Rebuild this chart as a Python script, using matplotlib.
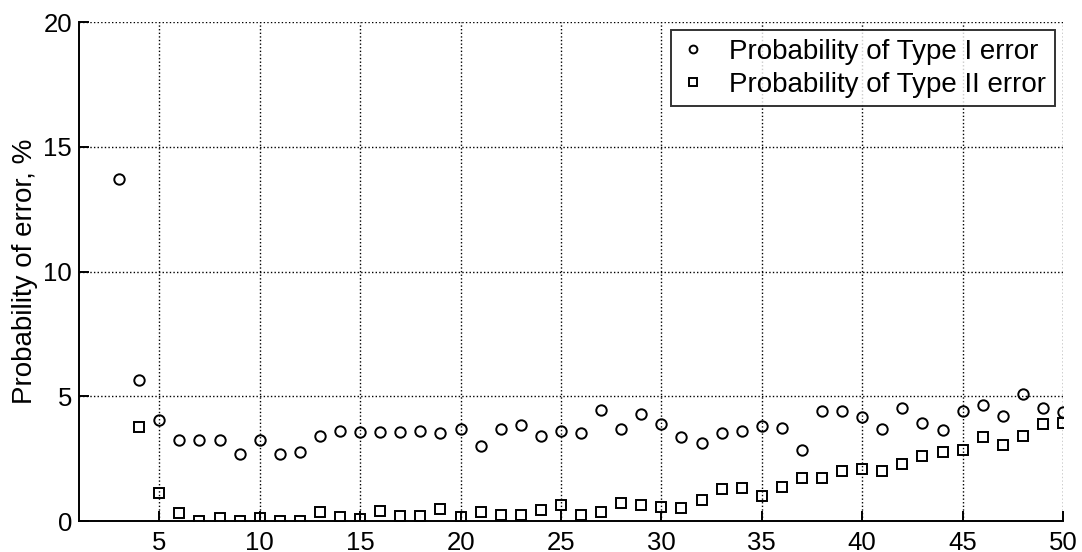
import numpy as np
import matplotlib.pyplot as plt

plt.rcParams['font.family'] = ['Liberation Sans', 'DejaVu Sans']

# number of samples on x, error probabilities in percent
n_type1 = list(range(3, 51))
p_type1 = [13.71, 5.65, 4.04, 3.25, 3.25, 3.25, 2.70, 3.26, 2.70, 2.75,
           3.42, 3.61, 3.57, 3.57, 3.58, 3.63, 3.55, 3.71, 3.01, 3.71,
           3.85, 3.42, 3.63, 3.53, 4.44, 3.69, 4.30, 3.89, 3.37, 3.11,
           3.53, 3.63, 3.83, 3.73, 2.86, 4.40, 4.40, 4.18, 3.69, 4.53,
           3.94, 3.67, 4.40, 4.65, 4.22, 5.08, 4.52, 4.38]

n_type2 = list(range(4, 51))
p_type2 = [3.77, 1.12, 0.33, 0.00, 0.11, 0.00, 0.11, 0.00, 0.00, 0.35,
           0.15, 0.07, 0.39, 0.20, 0.20, 0.47, 0.15, 0.35, 0.23, 0.23,
           0.43, 0.63, 0.23, 0.37, 0.71, 0.65, 0.55, 0.52, 0.84, 1.27,
           1.34, 1.00, 1.35, 1.74, 1.74, 2.00, 2.07, 2.00, 2.30, 2.60,
           2.75, 2.86, 3.37, 3.06, 3.43, 3.90, 3.93]

x_ticks = [5, 10, 15, 20, 25, 30, 35, 40, 45, 50]
y_ticks = [0, 5, 10, 15, 20]

fig = plt.figure(figsize=(10.82, 5.52), dpi=100)
ax = fig.add_axes([0.073, 0.056, 0.9095, 0.904])

ax.plot(n_type1, p_type1, linestyle='none', marker='o', markersize=7.5,
        markerfacecolor='none', markeredgecolor='black', markeredgewidth=1.4,
        label='Probability of Type I error')
ax.plot(n_type2, p_type2, linestyle='none', marker='s', markersize=7.5,
        markerfacecolor='none', markeredgecolor='black', markeredgewidth=1.4,
        label='Probability of Type II error')

ax.set_xlim(1, 50)
ax.set_ylim(0, 20)
ax.set_xticks(x_ticks)
ax.set_yticks(y_ticks)
ax.grid(True, color='black', linestyle=(0, (1, 1.6)), linewidth=1.0)
ax.set_axisbelow(True)

for side in ['top', 'right']:
    ax.spines[side].set_visible(False)
for side in ['left', 'bottom']:
    ax.spines[side].set_linewidth(1.4)

ax.tick_params(direction='in', length=7, width=1.4, labelsize=18.5)
ax.tick_params(axis='x', pad=7)
ax.tick_params(axis='y', pad=5)
ax.set_ylabel('Probability of error, %', fontsize=20, labelpad=4)

leg = ax.legend(loc='upper right', fontsize=20, markerscale=0.75,
                frameon=True, fancybox=False, edgecolor='black',
                borderaxespad=0.3, handlelength=1.0, handletextpad=0.8,
                borderpad=0.3, labelspacing=0.25)
leg.get_frame().set_linewidth(1.4)

fig.savefig('out.png', dpi=100)
